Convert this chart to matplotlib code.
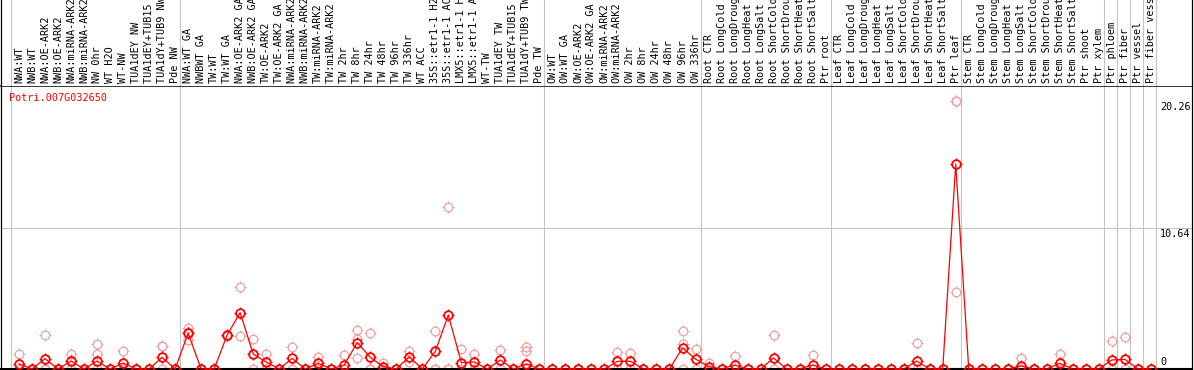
import matplotlib
matplotlib.use("Agg")
import matplotlib.pyplot as plt
from matplotlib.path import Path
import matplotlib.transforms as mtransforms

# ---------------- data ----------------
gene_id = "Potri.007G032650"

samples = [
    # group 1
    "NWA:WT", "NWB:WT", "NWA:OE-ARK2", "NWB:OE-ARK2", "NWA:miRNA-ARK2", "NWB:miRNA-ARK2",
    "NW 0hr", "WT H2O", "WT-NW", "TUA1dEY NW", "TUA1dEY+TUB15 NW", "TUA1dY+TUB9 NW", "Pde NW",
    # group 2
    "NWA:WT GA", "NWBWT GA", "TW:WT", "TW:WT GA", "NWA:OE-ARK2 GA", "NWB:OE-ARK2 GA",
    "TW:OE-ARK2", "TW:OE-ARK2 GA", "NWA:miRNA-ARK2 GA", "NWB:miRNA-ARK2 GA", "TW:miRNA-ARK2",
    "TW:miRNA-ARK2 GA", "TW 2hr", "TW 8hr", "TW 24hr", "TW 48hr", "TW 96hr", "TW 336hr", "WT ACC",
    "35S::etr1-1 H2O", "35S::etr1-1 ACC", "LMX5::etr1-1 H2O", "LMX5::etr1-1 ACC", "WT-TW",
    "TUA1dEY TW", "TUA1dEY+TUB15 TW", "TUA1dY+TUB9 TW", "Pde TW",
    # group 3
    "OW:WT", "OW:WT GA", "OW:OE-ARK2", "OW:OE-ARK2 GA", "OW:miRNA-ARK2", "OW:miRNA-ARK2 GA",
    "OW 2hr", "OW 8hr", "OW 24hr", "OW 48hr", "OW 96hr", "OW 336hr",
    # group 4
    "Root CTR", "Root LongCold", "Root LongDrought", "Root LongHeat", "Root LongSalt",
    "Root ShortCold", "Root ShortDrought", "Root ShortHeat", "Root ShortSalt", "Ptr root",
    # group 5
    "Leaf CTR", "Leaf LongCold", "Leaf LongDrought", "Leaf LongHeat", "Leaf LongSalt",
    "Leaf ShortCold", "Leaf ShortDrought", "Leaf ShortHeat", "Leaf ShortSalt", "Ptr leaf",
    # group 6
    "Stem CTR", "Stem LongCold", "Stem LongDrought", "Stem LongHeat", "Stem LongSalt",
    "Stem ShortCold", "Stem ShortDrought", "Stem ShortHeat", "Stem ShortSalt", "Ptr shoot",
    "Ptr xylem",
    # singles
    "Ptr phloem", "Ptr fiber", "Ptr vessel", "Ptr fiber vessel",
]

# index of first sample of each group (and end)
group_starts = [0, 13, 41, 53, 63, 73, 84, 85, 86, 87, 88]

mean_vals = [
    0.38, 0, 0.78, 0, 0.60, 0, 0.60, 0, 0.45, 0, 0, 0.88, 0,
    2.70, 0, 0, 2.57, 4.25, 1.13, 0.53, 0, 0.80, 0, 0.43, 0, 0.30, 2.00, 0.88, 0.18, 0,
    0.93, 0, 1.33, 4.08, 0.48, 0.53, 0, 0.68, 0, 0.38, 0,
    0, 0, 0, 0, 0, 0.58, 0.58, 0, 0, 0, 1.60, 0.75,
    0.18, 0, 0.30, 0, 0, 0.83, 0, 0, 0.30, 0,
    0, 0, 0, 0, 0, 0, 0.60, 0, 0, 15.47,
    0, 0, 0, 0, 0.23, 0, 0, 0.43, 0, 0, 0,
    0.68, 0.73, 0, 0,
]

replicates = {
    0: [1.10, 0, 0], 2: [2.60, 0, 0], 4: [1.10, 0.70, 0], 6: [1.86, 1.10, 0],
    8: [1.36, 0, 0], 11: [1.76, 1.70, 0], 13: [3.07, 2.19, 2.80], 16: [2.60, 2.50],
    17: [6.20, 2.49], 18: [2.30, 0], 19: [1.13, 0, 0], 21: [1.68, 0], 23: [0.93, 0],
    25: [1.06, 0, 0], 26: [2.94, 2.26, 0.80], 27: [2.74, 0, 0], 28: [0.48, 0],
    30: [1.38, 0.55], 32: [2.89, 0, 0], 33: [12.20, 0, 0], 34: [1.48, 0], 35: [1.13, 0],
    37: [1.43, 0], 39: [1.68, 1.38, 0], 46: [1.26, 0], 47: [1.18, 0],
    51: [2.89, 1.86, 0], 52: [1.48, 0], 53: [0.48, 0], 55: [0.98, 0], 58: [2.57, 0],
    61: [1.06, 0], 69: [1.94, 0], 72: [20.26, 20.20, 5.80], 77: [0.80, 0],
    80: [1.13, 0], 84: [2.14, 0], 85: [2.39, 0],
}

ytick_vals = [0, 10.64, 20.26]
ytick_labels = ["0", "10.64", "20.26"]

# ---------------- styling ----------------
W, H = 1194, 370
MONO = "DejaVu Sans Mono"
FS = 7.3
GRID = "#c4c4c4"
DARK = "#ff0000"
LIGHT = "#f0a0a0"

fig = plt.figure(figsize=(W / 100, H / 100), dpi=100)


def px_axes(l, t, r, b):
    return fig.add_axes([l / W, 1 - b / H, (r - l) / W, (b - t) / H])


ax = px_axes(1, 86, 1192, 369)
hx = px_axes(1, 0, 1192, 86)

x0px, dxpx = 19.0, 13.01
xlim = ((1 - x0px) / dxpx, (1192 - x0px) / dxpx)
for a in (ax, hx):
    a.set_xlim(*xlim)
    a.set_xticks([])
    a.set_yticks([])
    a.set_facecolor("white")
ax.set_ylim(0, 283 / 13.25)
hx.set_ylim(0, 86)

for s in ("left", "right"):
    ax.spines[s].set_linewidth(0.9)
    hx.spines[s].set_linewidth(0.9)
ax.spines["bottom"].set_linewidth(1.5)
ax.spines["top"].set_linewidth(1.1)
hx.spines["top"].set_visible(False)
hx.spines["bottom"].set_visible(False)

# separators
sep_off = 8.0 / 13.0
for g in group_starts:
    for a in (ax, hx):
        a.axvline(g - sep_off, color=GRID, lw=0.8, zorder=0)
ax.axhline(ytick_vals[1], color=GRID, lw=0.8, zorder=0)

# header labels
lab_tr = mtransforms.offset_copy(hx.transData, fig=fig, x=0, y=0, units="dots")
for i, name in enumerate(samples):
    hx.text(i, 3, name, rotation=90, ha="center", va="bottom",
            fontsize=FS, family=MONO, color="black", transform=lab_tr)

# marker = open circle plus four short outer ticks
tick_path = Path(
    [(1, 0), (0.7, 0), (-1, 0), (-0.7, 0), (0, 1), (0, 0.7), (0, -1), (0, -0.7)],
    [Path.MOVETO, Path.LINETO] * 4,
)
CIRC_MS = 6.2   # points (~8.6 px)
TICK_MS = 8.8   # points (~12 px)

xs = list(range(len(samples)))

rx, ry = [], []
for i in xs:
    for v in replicates.get(i, [0, 0]):
        rx.append(i)
        ry.append(v)


def draw_points(x, y, color, mew, z):
    ax.plot(x, y, ls="none", marker="o", ms=CIRC_MS, mfc="none", mec=color, mew=mew,
            clip_on=False, zorder=z)
    ax.plot(x, y, ls="none", marker=tick_path, ms=TICK_MS, mfc="none", mec=color,
            mew=mew * 0.8, clip_on=False, zorder=z)


draw_points(rx, ry, LIGHT, 0.9, 2)
ax.plot(xs, mean_vals, color=DARK, lw=0.9, zorder=3, clip_on=False)
draw_points(xs, mean_vals, DARK, 1.3, 4)

# y tick labels on the right
for v, lab in zip(ytick_vals, ytick_labels):
    dy = 7 if v == 0 else -6
    tr = mtransforms.offset_copy(ax.get_yaxis_transform(), fig=fig, x=0, y=dy, units="dots")
    ax.text((1160 - 1) / 1191, v, lab, transform=tr, ha="left", va="center",
            fontsize=FS, family=MONO, color="black")

ax.text((9 - 1) / 1191, (369 - 97.7) / 283, gene_id, transform=ax.transAxes,
        ha="left", va="center", fontsize=FS, family=MONO, color=DARK)

fig.savefig("out.png", dpi=100)
